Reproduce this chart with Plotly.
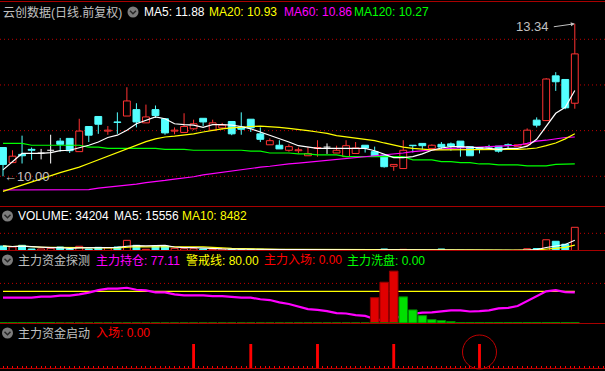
import plotly.graph_objects as go

W, H = 605, 371

# ---------------- data ----------------
OPEN = [10.63, 10.30, 10.48, 10.59, 10.51, 10.57, 10.77, 10.83, 10.54, 11.09,
        11.31, 10.99, 11.19, 11.32, 11.46, 11.17, 11.46, 11.26, 10.99, 10.96,
        11.04, 11.27, 11.01, 11.06, 11.20, 11.08, 11.25, 10.93, 10.69, 10.68,
        10.57, 10.56, 10.45, 10.61, 10.64, 10.51, 10.43, 10.50, 10.68, 10.54,
        10.46, 10.22, 10.17, 10.68, 10.72, 10.61, 10.70, 10.71, 10.77, 10.65,
        10.63, 10.65, 10.66, 10.69, 10.65, 10.69, 11.23, 11.22, 12.20, 12.12,
        11.60]
HIGH = [10.63, 10.57, 10.89, 10.63, 10.60, 10.91, 10.84, 10.83, 11.26, 11.09,
        11.31, 11.10, 11.40, 11.95, 11.60, 11.57, 11.55, 11.26, 11.07, 11.38,
        11.24, 11.27, 11.24, 11.17, 11.20, 11.40, 11.25, 11.07, 10.83, 10.79,
        10.70, 10.63, 10.64, 10.79, 10.72, 10.67, 10.79, 10.75, 10.68, 10.65,
        10.46, 10.26, 10.79, 10.68, 10.72, 10.70, 10.75, 10.74, 10.77, 10.65,
        10.63, 10.69, 10.66, 10.72, 10.69, 11.05, 11.29, 12.15, 12.28, 12.12,
        13.34]
LOW = [10.00, 10.29, 10.28, 10.36, 10.37, 10.28, 10.54, 10.51, 10.54, 10.75,
       10.93, 10.91, 10.93, 11.32, 11.07, 11.17, 11.28, 10.91, 10.92, 10.96,
       11.02, 11.10, 11.01, 11.02, 10.90, 10.91, 10.97, 10.75, 10.69, 10.60,
       10.54, 10.50, 10.45, 10.43, 10.49, 10.51, 10.43, 10.50, 10.52, 10.45,
       10.19, 10.12, 10.17, 10.52, 10.59, 10.60, 10.59, 10.56, 10.43, 10.45,
       10.50, 10.58, 10.52, 10.59, 10.65, 10.66, 11.07, 11.22, 11.87, 11.47,
       11.48]
CLOSE = [10.26, 10.44, 10.45, 10.57, 10.51, 10.57, 10.70, 10.56, 10.99, 10.90,
         11.14, 11.01, 11.18, 11.65, 11.19, 11.30, 11.33, 10.95, 11.01, 11.09,
         11.15, 11.19, 11.17, 11.12, 10.93, 11.03, 11.06, 10.81, 10.78, 10.60,
         10.65, 10.58, 10.50, 10.63, 10.64, 10.57, 10.67, 10.62, 10.62, 10.45,
         10.21, 10.26, 10.57, 10.67, 10.67, 10.68, 10.64, 10.66, 10.63, 10.45,
         10.59, 10.64, 10.55, 10.68, 10.69, 11.01, 11.12, 12.13, 12.07, 11.50,
         12.68]

MA5 = [10.14, 10.32, 10.50, 10.50, 10.50, 10.52, 10.56, 10.57, 10.62, 10.68,
       10.75, 10.85, 10.90, 11.01, 11.15, 11.22, 11.30, 11.26, 11.15, 11.13,
       11.12, 11.07, 11.13, 11.13, 11.12, 11.09, 11.04, 10.97, 10.90, 10.83,
       10.75, 10.67, 10.64, 10.61, 10.61, 10.61, 10.61, 10.62, 10.61, 10.56,
       10.49, 10.41, 10.41, 10.43, 10.49, 10.57, 10.62, 10.65, 10.65, 10.64,
       10.62, 10.61, 10.59, 10.61, 10.61, 10.66, 10.81, 11.09, 11.38, 11.51,
       11.88]
MA20 = [9.67, 9.74, 9.80, 9.87, 9.95, 10.02, 10.08, 10.14, 10.20, 10.28,
        10.36, 10.43, 10.52, 10.59, 10.67, 10.76, 10.82, 10.86, 10.88, 10.90,
        10.93, 10.97, 11.01, 11.04, 11.06, 11.08, 11.09, 11.10, 11.09, 11.07,
        11.05, 11.03, 11.00, 10.97, 10.94, 10.89, 10.86, 10.83, 10.81, 10.78,
        10.73, 10.68, 10.64, 10.61, 10.59, 10.58, 10.58, 10.58, 10.58, 10.58,
        10.58, 10.58, 10.58, 10.58, 10.59, 10.60, 10.62, 10.67, 10.73, 10.82,
        10.93]
MA60 = [9.70, 9.70, 9.70, 9.70, 9.70, 9.70, 9.70, 9.70, 9.70, 9.71,
        9.74, 9.76, 9.78, 9.80, 9.83, 9.86, 9.88, 9.91, 9.94, 9.96,
        9.99, 10.03, 10.06, 10.09, 10.11, 10.14, 10.17, 10.20, 10.22, 10.25,
        10.27, 10.29, 10.31, 10.32, 10.34, 10.36, 10.38, 10.40, 10.43, 10.45,
        10.46, 10.48, 10.51, 10.54, 10.56, 10.58, 10.60, 10.61, 10.62, 10.63,
        10.64, 10.65, 10.65, 10.66, 10.68, 10.72, 10.77, 10.79, 10.82, 10.85,
        10.86]
MA120 = [10.72, 10.72, 10.72, 10.68, 10.68, 10.68, 10.68, 10.68, 10.68, 10.64,
         10.64, 10.61, 10.61, 10.61, 10.61, 10.61, 10.61, 10.59, 10.59, 10.59,
         10.57, 10.57, 10.57, 10.57, 10.57, 10.57, 10.55, 10.55, 10.51, 10.51,
         10.51, 10.49, 10.49, 10.47, 10.47, 10.47, 10.43, 10.43, 10.43, 10.43,
         10.43, 10.43, 10.43, 10.36, 10.36, 10.36, 10.32, 10.32, 10.30, 10.30,
         10.27, 10.27, 10.25, 10.25, 10.25, 10.23, 10.23, 10.23, 10.26, 10.26,
         10.27]

VOLUME = [7200, 5800, 8200, 2900, 2900, 3900, 5800, 2900, 6800, 2900,
          5300, 4800, 5800, 15400, 8200, 2400, 7200, 7200, 3900, 3300,
          3300, 2900, 2400, 2900, 2400, 1900, 2400, 2400, 1900, 1900,
          1900, 1900, 1400, 1400, 1400, 1400, 1400, 1200, 1000, 1000,
          2900, 1000, 2400, 1000, 900, 1000, 2900, 1000, 1000, 900,
          900, 900, 900, 900, 1000, 3340, 3600, 16200, 14000, 9776,
          34204]

HOLD = [64, 64, 64, 64, 66.5, 66.5, 69, 69, 72.4, 76.6,
        83, 86.7, 87, 89, 84, 82.5, 77.5, 77.5, 72.4, 70,
        70, 70, 68, 68, 66, 64, 64, 60, 58, 52,
        48, 42, 35, 33, 30, 25, 24, 20, 18, 10,
        6, 8, 22, 23, 26, 27, 29, 32, 32, 29,
        30, 32, 37, 38, 43, 55, 68, 80, 83, 78,
        77.11]
WARN_LEVEL = 80
ENTRY = [0] * 39 + [64, 103, 131] + [0] * 19
WASH = [1.2] * 6 + [0] * 36 + [66, 33, 18.5, 8.4, 6, 3.4] + [1.2] * 13
ENTRY_NOW = 0.00
WASH_NOW = 0.00
START = [0] * 20 + [1] + [0] * 5 + [1] + [0] * 6 + [1] + [0] * 7 + [1] + [0] * 8 + [1] + [0] * 10

# ---------------- helpers / styles ----------------
N = len(CLOSE)
IDX = list(range(N))
STEP = 9.53          # px per candle
X0PX = 3.0           # px position of candle 0
XR = [-X0PX / STEP, (W - X0PX) / STEP]

RED = "#ff3232"
CYAN = "#54ffff"
WHITE = "#ffffff"
YEL = "#ffff00"
MAG = "#ff00ff"
GRN = "#00ff00"
GRIDC = "#c00000"
FRAME = "#a80000"
TXT = "#c0c0c0"
FONT = "Liberation Sans, Arial, Noto Sans CJK SC, sans-serif"
BODY_W = 0.72


def fx(x):
    return x / W


def fy(y):
    return 1 - y / H


def rolling_mean(vals, n):
    out = []
    for i in range(len(vals)):
        seg = vals[max(0, i - n + 1): i + 1]
        out.append(sum(seg) / len(seg))
    return out


VMA5 = rolling_mean(VOLUME, 5)
VMA10 = rolling_mean(VOLUME, 10)

fig = go.Figure()

up = [i for i in IDX if CLOSE[i] > OPEN[i]]
dn = [i for i in IDX if CLOSE[i] < OPEN[i]]
dj = [i for i in IDX if CLOSE[i] == OPEN[i]]


def wick_xy(ids):
    xs, ys = [], []
    for i in ids:
        top = max(OPEN[i], CLOSE[i])
        bot = min(OPEN[i], CLOSE[i])
        if HIGH[i] > top:
            xs += [i, i, None]
            ys += [top, HIGH[i], None]
        if LOW[i] < bot:
            xs += [i, i, None]
            ys += [LOW[i], bot, None]
    return xs, ys


# ---- main panel: candles ----
for ids, col in ((up, RED), (dn, CYAN), (dj, WHITE)):
    xs, ys = wick_xy(ids)
    fig.add_trace(go.Scatter(x=xs, y=ys, mode="lines", line=dict(color=col, width=1),
                             hoverinfo="skip", yaxis="y"))

fig.add_trace(go.Bar(x=up, y=[CLOSE[i] - OPEN[i] for i in up], base=[OPEN[i] for i in up],
                     width=BODY_W, marker=dict(color="black", line=dict(color=RED, width=1)),
                     hoverinfo="skip", yaxis="y"))
fig.add_trace(go.Bar(x=dn, y=[OPEN[i] - CLOSE[i] for i in dn], base=[CLOSE[i] for i in dn],
                     width=BODY_W, marker=dict(color=CYAN, line=dict(color=CYAN, width=1)),
                     hoverinfo="skip", yaxis="y"))
djx, djy = [], []
for i in dj:
    djx += [i - BODY_W / 2, i + BODY_W / 2, None]
    djy += [OPEN[i], OPEN[i], None]
fig.add_trace(go.Scatter(x=djx, y=djy, mode="lines", line=dict(color=WHITE, width=1),
                         hoverinfo="skip", yaxis="y"))

for arr, col in ((MA120, GRN), (MA60, MAG), (MA20, YEL), (MA5, WHITE)):
    fig.add_trace(go.Scatter(x=IDX, y=arr, mode="lines", line=dict(color=col, width=1.2),
                             hoverinfo="skip", yaxis="y"))

# ---- volume panel ----
vup = [i for i in IDX if CLOSE[i] >= OPEN[i]]
vdn = [i for i in IDX if CLOSE[i] < OPEN[i]]
fig.add_trace(go.Bar(x=vup, y=[VOLUME[i] for i in vup], width=BODY_W,
                     marker=dict(color="black", line=dict(color=RED, width=1)),
                     hoverinfo="skip", yaxis="y2"))
fig.add_trace(go.Bar(x=vdn, y=[VOLUME[i] for i in vdn], width=BODY_W,
                     marker=dict(color=CYAN, line=dict(color=CYAN, width=1)),
                     hoverinfo="skip", yaxis="y2"))
fig.add_trace(go.Scatter(x=IDX, y=VMA10, mode="lines", line=dict(color=YEL, width=1.2),
                         hoverinfo="skip", yaxis="y2"))
fig.add_trace(go.Scatter(x=IDX, y=VMA5, mode="lines", line=dict(color=WHITE, width=1.2),
                         hoverinfo="skip", yaxis="y2"))

# ---- 主力资金探测 panel ----
fig.add_trace(go.Scatter(x=[IDX[0], IDX[-1]], y=[WARN_LEVEL, WARN_LEVEL], mode="lines",
                         line=dict(color=YEL, width=1.3), hoverinfo="skip", yaxis="y3"))
fig.add_trace(go.Scatter(x=IDX, y=HOLD, mode="lines", line=dict(color=MAG, width=2.2),
                         hoverinfo="skip", yaxis="y3"))
fig.add_trace(go.Bar(x=IDX, y=ENTRY, width=0.9, marker=dict(color="#e00000", line=dict(color="#900000", width=1)),
                     hoverinfo="skip", yaxis="y4"))
fig.add_trace(go.Bar(x=IDX, y=WASH, width=0.9, marker=dict(color="#00e000", line=dict(color="#008800", width=1)),
                     hoverinfo="skip", yaxis="y4"))

# ---- 主力资金启动 panel ----
fig.add_trace(go.Bar(x=IDX, y=START, width=0.3, marker=dict(color="#ff0000", line=dict(width=0)),
                     hoverinfo="skip", xaxis="x2", yaxis="y5"))

# ---------------- shapes ----------------
shapes = []
# dotted grid lines
for lvl in (10, 11, 12, 13):
    shapes.append(dict(type="line", xref="paper", x0=0, x1=1, yref="y", y0=lvl, y1=lvl,
                       line=dict(color=GRIDC, width=1, dash="1px,3px"), layer="below"))
shapes.append(dict(type="line", xref="paper", x0=0, x1=1, yref="y2", y0=25500, y1=25500,
                   line=dict(color=GRIDC, width=1, dash="1px,3px"), layer="below"))
shapes.append(dict(type="line", xref="paper", x0=0, x1=1, yref="y3", y0=100, y1=100,
                   line=dict(color=GRIDC, width=1, dash="1px,3px"), layer="below"))
# frame lines
for ypx in (1.5, 206.5, 250.5, 323.5, 368.5):
    shapes.append(dict(type="line", xref="paper", yref="paper", x0=0, x1=1, y0=fy(ypx), y1=fy(ypx),
                       line=dict(color=FRAME, width=1.2), layer="above"))

# title icons
for cx, cy in ((133, 12), (7.5, 216), (7.5, 260), (7.5, 333)):
    r = 5.5
    shapes.append(dict(type="circle", xref="paper", yref="paper",
                       x0=fx(cx - r), x1=fx(cx + r), y0=fy(cy + r), y1=fy(cy - r),
                       fillcolor="#7c7c7c", line=dict(width=0), layer="above"))
    path = "M {},{} L {},{} L {},{}".format(fx(cx - 3), fy(cy - 1.2), fx(cx), fy(cy + 1.8),
                                            fx(cx + 3), fy(cy - 1.2))
    shapes.append(dict(type="path", xref="paper", yref="paper", path=path,
                       line=dict(color="#262626", width=1.5), layer="above"))

# highlight circle in bottom panel (around last start signal)
last_start = max(i for i in IDX if START[i] > 0)
shapes.append(dict(type="circle", xref="x2", yref="paper",
                   x0=last_start - 17 / STEP, x1=last_start + 17 / STEP,
                   y0=fy(369), y1=fy(335), line=dict(color="#c00000", width=1), layer="above"))

# ---------------- annotations ----------------
ann = []


def label(x, y, text, color, size=12):
    ann.append(dict(xref="paper", yref="paper", x=fx(x), y=fy(y), text=text, showarrow=False,
                    xanchor="left", yanchor="middle", font=dict(color=color, size=size, family=FONT)))


label(1, 12, "云创数据(日线.前复权)", TXT)
label(142, 12, "MA5: {:.2f}".format(MA5[-1]), WHITE)
label(207, 12, "MA20: {:.2f}".format(MA20[-1]), YEL)
label(282, 12, "MA60: {:.2f}".format(MA60[-1]), MAG)
label(352, 12, "MA120: {:.2f}".format(MA120[-1]), GRN)

label(16, 216, "VOLUME: {:d}".format(VOLUME[-1]), WHITE)
label(112, 216, "MA5: {:.0f}".format(VMA5[-1]), WHITE)
label(180, 216, "MA10: {:.0f}".format(VMA10[-1]), YEL)

label(16, 260, "主力资金探测", TXT)
label(94, 260, "主力持仓: {:.2f}".format(HOLD[-1]), MAG)
label(184, 260, "警戒线: {:.2f}".format(WARN_LEVEL), YEL)
label(262, 260, "主力入场: {:.2f}".format(ENTRY_NOW), "#ff0000")
label(345, 260, "主力洗盘: {:.2f}".format(WASH_NOW), GRN)

label(16, 333, "主力资金启动", TXT)
label(94, 333, "入场: {:.2f}".format(ENTRY_NOW), "#ff0000")

# max / min price markers
imax = max(IDX, key=lambda i: HIGH[i])
imin = min(IDX, key=lambda i: LOW[i])
ann.append(dict(xref="x", yref="y", x=imax, y=HIGH[imax], ax=-21, ay=3, axref="pixel", ayref="pixel",
                text="{:.2f} ".format(HIGH[imax]), showarrow=True, arrowhead=2, arrowsize=0.8,
                arrowwidth=1, arrowcolor=TXT, xanchor="right", yanchor="middle",
                font=dict(color=TXT, size=13, family=FONT)))
ann.append(dict(xref="x", yref="y", x=imin, y=LOW[imin], text="←{:.2f}".format(LOW[imin]),
                showarrow=False, xanchor="left", yanchor="middle", xshift=-1,
                font=dict(color=TXT, size=13, family=FONT)))

fig.update_layout(
    width=W, height=H, margin=dict(l=0, r=0, t=0, b=0, pad=0),
    paper_bgcolor="black", plot_bgcolor="black", showlegend=False, barmode="overlay",
    xaxis=dict(range=XR, visible=False, fixedrange=True, domain=[0, 1]),
    xaxis2=dict(range=XR, matches="x", anchor="y5", domain=[0, 1], showticklabels=False,
                showgrid=False, zeroline=False, showline=False, ticks="inside", ticklen=2,
                tickcolor="#ff0000", tick0=0, dtick=0.5),
    yaxis=dict(domain=[fy(206), fy(3)], range=[10 + (176.3 - 206) / 45.67, 10 + (176.3 - 3) / 45.67],
               visible=False, fixedrange=True),
    yaxis2=dict(domain=[fy(251), fy(207)], range=[0, 44 * 1443], visible=False, anchor="x"),
    yaxis3=dict(domain=[fy(323), fy(251)], range=[0, 72 / 0.396], visible=False, anchor="x"),
    yaxis4=dict(overlaying="y3", range=[0, 72 / 0.396], visible=False, anchor="x"),
    yaxis5=dict(domain=[fy(368), fy(324)], range=[0, 44 / 24], visible=False, anchor="x2"),
    shapes=shapes, annotations=ann,
)

fig.write_html("out.html")
